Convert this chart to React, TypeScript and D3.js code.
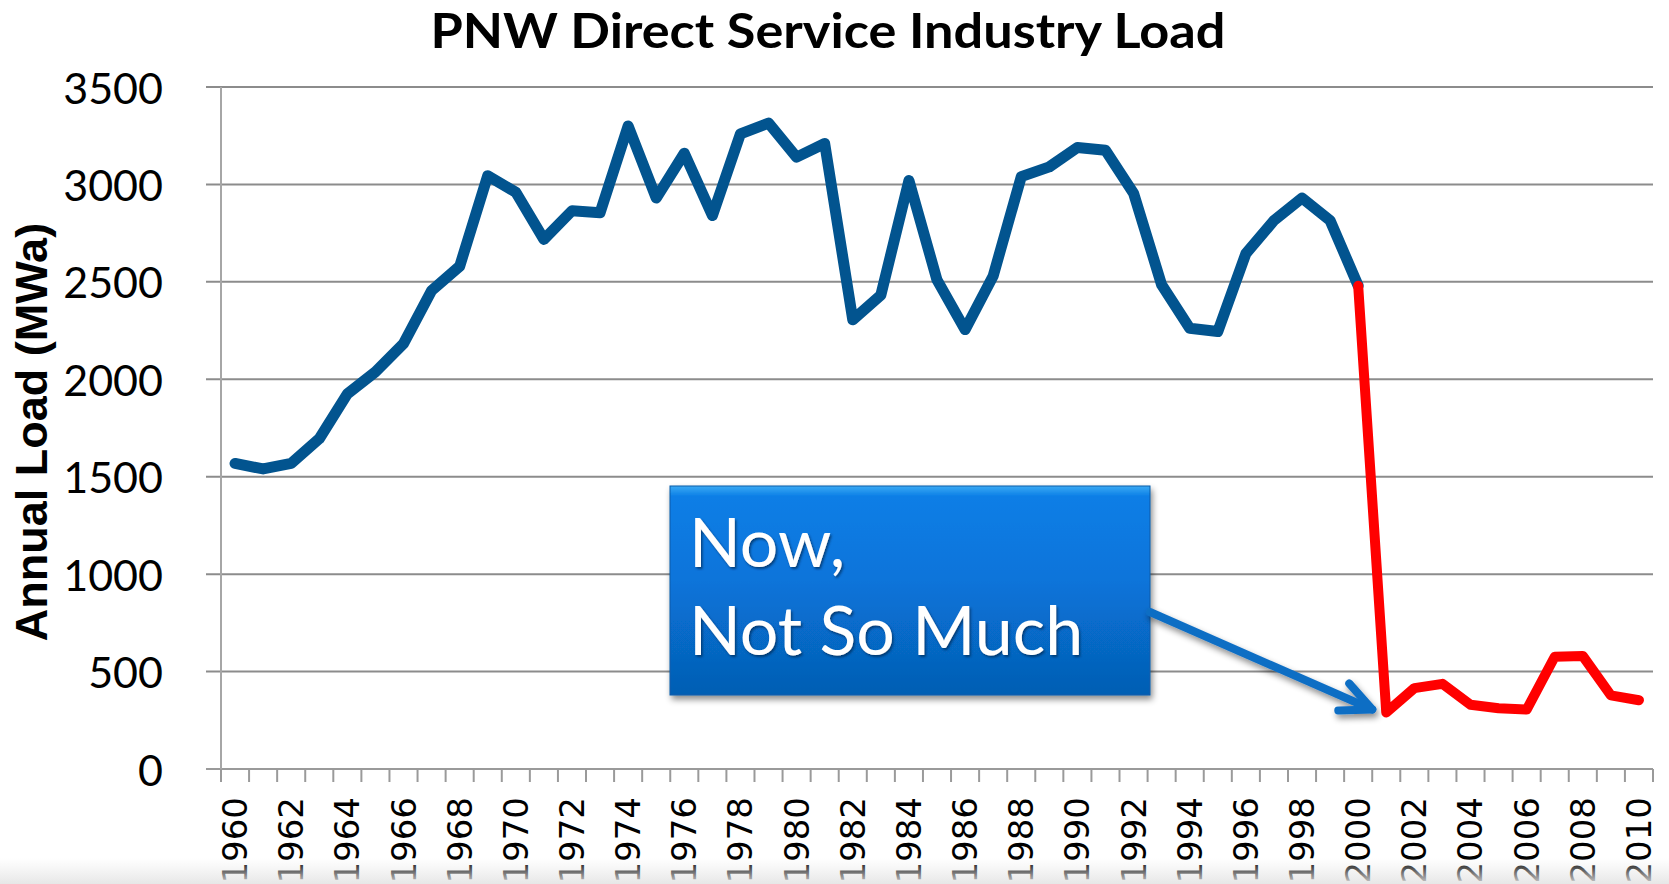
import { useEffect, useMemo } from "react";
import * as d3 from "d3";

const WIDTH = 1669;
const HEIGHT = 884;
const PLOT = { left: 221, right: 1653, top: 87, bottom: 769 };

// categories 1960..2010
const YEARS = [
  1960, 1961, 1962, 1963, 1964, 1965, 1966, 1967, 1968, 1969,
  1970, 1971, 1972, 1973, 1974, 1975, 1976, 1977, 1978, 1979,
  1980, 1981, 1982, 1983, 1984, 1985, 1986, 1987, 1988, 1989,
  1990, 1991, 1992, 1993, 1994, 1995, 1996, 1997, 1998, 1999,
  2000, 2001, 2002, 2003, 2004, 2005, 2006, 2007, 2008, 2009, 2010,
];

// historic load, 1960-2000 (blue)
const HISTORIC_YEARS = YEARS.slice(0, 41);
const HISTORIC_LOAD = [
  1568, 1540, 1568, 1695, 1925, 2038, 2183, 2455, 2580, 3045,
  2960, 2718, 2865, 2855, 3300, 2930, 3160, 2840, 3260, 3315,
  3140, 3210, 2305, 2432, 3020, 2510, 2255, 2530, 3040, 3090,
  3190, 3175, 2955, 2485, 2262, 2245, 2645, 2815, 2930, 2815,
  2480,
];

// recent load, 2000-2010 (red)
const RECENT_YEARS = YEARS.slice(40);
const RECENT_LOAD = [2480, 290, 415, 437, 330, 312, 305, 576, 580, 378, 353];

const Y_TICKS = [0, 500, 1000, 1500, 2000, 2500, 3000, 3500];
const X_LABELS = YEARS.filter((y) => y % 2 === 0);

const TITLE = "PNW Direct Service Industry Load";
const Y_TITLE = "Annual Load (MWa)";
const NOTE_LINES = ["Now,", "Not So Much"];

export default function App() {
  useEffect(() => {
    document.body.style.margin = "0";
    document.body.style.overflow = "hidden";
  }, []);

  const xScale = useMemo(
    () =>
      d3
        .scaleBand<number>()
        .domain(YEARS)
        .range([PLOT.left, PLOT.right])
        .paddingInner(0)
        .paddingOuter(0),
    []
  );
  const yScale = useMemo(
    () => d3.scaleLinear().domain([0, 3500]).range([PLOT.bottom, PLOT.top]),
    []
  );
  const cx = (y: number) => (xScale(y) as number) + xScale.bandwidth() / 2;

  const lineGen = d3
    .line<[number, number]>()
    .x((d) => cx(d[0]))
    .y((d) => yScale(d[1]));

  const historicPath = lineGen(
    HISTORIC_YEARS.map((y, i) => [y, HISTORIC_LOAD[i]] as [number, number])
  );
  const recentPath = lineGen(
    RECENT_YEARS.map((y, i) => [y, RECENT_LOAD[i]] as [number, number])
  );

  // tick marks sit on category boundaries
  const boundaries = YEARS.map((y) => xScale(y) as number).concat(PLOT.right);

  // annotation arrow points at the 2001 low
  const tipX = cx(2001) - 14;
  const tipY = yScale(RECENT_LOAD[1]) - 3;

  return (
    <svg
      width={WIDTH}
      height={HEIGHT}
      style={{ position: "absolute", left: 0, top: 0, background: "#fff" }}
    >
      <defs>
        <linearGradient id="boxFill" x1="0" y1="0" x2="0" y2="1">
          <stop offset="0" stopColor="#3aaaf4" />
          <stop offset="0.05" stopColor="#0a7ee6" />
          <stop offset="0.45" stopColor="#0874da" />
          <stop offset="1" stopColor="#055eb3" />
        </linearGradient>
        <linearGradient id="bottomFade" x1="0" y1="0" x2="0" y2="1">
          <stop offset="0" stopColor="#e8e8e8" stopOpacity="0" />
          <stop offset="1" stopColor="#e4e4e4" stopOpacity="0.9" />
        </linearGradient>
        <filter id="boxShadow" x="-10%" y="-10%" width="120%" height="130%">
          <feDropShadow dx="2" dy="4" stdDeviation="3" floodColor="#000" floodOpacity="0.45" />
        </filter>
        <filter id="textShadow" x="-10%" y="-10%" width="120%" height="130%">
          <feDropShadow dx="1.5" dy="2" stdDeviation="1.2" floodColor="#002a55" floodOpacity="0.7" />
        </filter>
      </defs>

      {/* title */}
      <text
        x={828}
        y={48}
        textAnchor="middle"
        fontFamily="Lato, 'Open Sans', sans-serif"
        fontWeight={700}
        fontSize={48}
        textLength={795}
        lengthAdjust="spacingAndGlyphs"
        fill="#000"
      >
        {TITLE}
      </text>

      {/* gridlines + y ticks */}
      {Y_TICKS.map((t) => (
        <g key={t}>
          <line
            x1={PLOT.left - 15}
            x2={PLOT.right}
            y1={yScale(t)}
            y2={yScale(t)}
            stroke={t === 0 ? "#9a9a9a" : "#8c8c8c"}
            strokeWidth={2}
          />
          <text
            x={163}
            y={yScale(t)}
            textAnchor="end"
            dominantBaseline="central"
            fontFamily="Lato, 'Open Sans', sans-serif"
            fontSize={43}
            fill="#000"
          >
            {t}
          </text>
        </g>
      ))}

      {/* y axis line */}
      <line
        x1={PLOT.left}
        x2={PLOT.left}
        y1={PLOT.top}
        y2={PLOT.bottom}
        stroke="#a6a6a6"
        strokeWidth={2}
      />

      {/* x ticks */}
      {boundaries.map((bx, i) => (
        <line
          key={i}
          x1={bx}
          x2={bx}
          y1={PLOT.bottom}
          y2={PLOT.bottom + 13}
          stroke="#9a9a9a"
          strokeWidth={2}
        />
      ))}

      {/* x labels */}
      {X_LABELS.map((y) => (
        <text
          key={y}
          transform={`translate(${cx(y)},797) rotate(-90)`}
          textAnchor="end"
          dominantBaseline="central"
          fontFamily="'DejaVu Sans', Verdana, sans-serif"
          fontSize={34}
          fill="#000"
        >
          {y}
        </text>
      ))}

      {/* y title */}
      <text
        transform={`translate(47,432) rotate(-90)`}
        textAnchor="middle"
        fontFamily="'Liberation Sans', Arial, sans-serif"
        fontWeight={700}
        fontSize={45}
        fill="#000"
      >
        {Y_TITLE}
      </text>

      {/* series */}
      <path
        d={historicPath ?? ""}
        fill="none"
        stroke="#02548f"
        strokeWidth={11}
        strokeLinejoin="round"
        strokeLinecap="round"
      />
      <path
        d={recentPath ?? ""}
        fill="none"
        stroke="#ff0000"
        strokeWidth={10}
        strokeLinejoin="round"
        strokeLinecap="round"
      />

      {/* annotation box */}
      <g filter="url(#boxShadow)">
        <rect x={670} y={486} width={480} height={209} fill="url(#boxFill)" stroke="#0a5aa8" strokeWidth={1} />
      </g>
      <g
        fontFamily="Lato, 'Open Sans', sans-serif"
        fontSize={68}
        fill="#fff"
        filter="url(#textShadow)"
      >
        <text x={689} y={567}>
          {NOTE_LINES[0]}
        </text>
        <text x={689} y={655}>
          {NOTE_LINES[1]}
        </text>
      </g>

      {/* annotation arrow */}
      <g
        stroke="#0f6ec4"
        strokeWidth={8}
        strokeLinecap="round"
        strokeLinejoin="round"
        fill="none"
        filter="url(#boxShadow)"
      >
        <line x1={1150} y1={612} x2={tipX} y2={tipY} />
        <polyline points={`${tipX - 23},${tipY - 26} ${tipX},${tipY} ${tipX - 34},${tipY + 1}`} />
      </g>

      {/* bottom fade as in the source capture */}
      <rect x={0} y={858} width={WIDTH} height={HEIGHT - 858} fill="url(#bottomFade)" />
    </svg>
  );
}
